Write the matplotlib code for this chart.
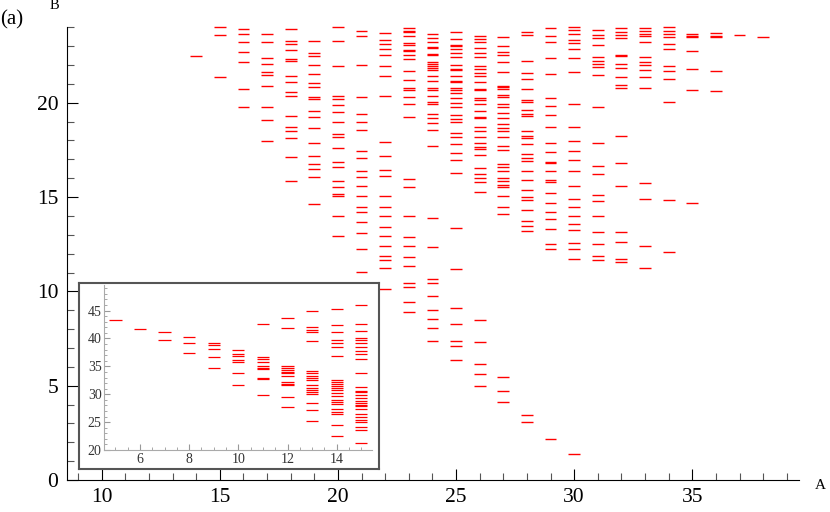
import matplotlib
matplotlib.use("Agg")
import matplotlib.pyplot as plt
from matplotlib.ticker import MultipleLocator

plt.rcParams['font.family'] = ['Liberation Serif', 'DejaVu Serif']

# main panel: A (column) and the B levels
main_A = [14, 15, 16, 17, 18, 19, 20, 21, 22, 23, 24, 25, 26,
          27, 28, 29, 30, 31, 32, 33, 34, 35, 36, 37, 38]
main_B = [
    [22.49],
    [24.0, 23.6, 21.34],
    [23.93, 23.64, 23.22, 22.67, 22.18, 20.74, 19.79],
    [23.62, 23.20, 22.35, 22.05, 21.61, 21.47, 20.89, 19.80, 19.11, 17.95],
    [23.89, 23.26, 23.09, 22.80, 22.32, 22.19, 21.40, 21.10, 20.57, 20.36,
     19.31, 18.73, 18.50, 18.11, 17.15, 15.86],
    [23.29, 22.64, 22.48, 21.98, 21.54, 21.05, 20.86, 20.28, 20.20, 19.58,
     19.26, 18.66, 17.89, 17.20, 16.76, 16.50, 16.04, 14.64],
    [24.01, 23.26, 21.93, 20.37, 20.19, 19.88, 19.52, 18.96, 18.36, 18.21,
     17.60, 16.85, 16.57, 15.86, 15.54, 15.15, 15.08, 14.01, 12.96],
    [23.78, 23.53, 22.0, 20.33, 19.42, 18.96, 18.53, 17.45, 17.08, 16.36,
     16.04, 15.61, 15.03, 14.48, 14.20, 13.69, 13.10, 12.27, 11.03],
    [23.68, 23.34, 23.11, 22.86, 22.53, 21.93, 21.40, 20.37, 17.93, 17.20,
     16.41, 16.14, 15.03, 14.48, 14.02, 13.42, 12.94, 12.43, 11.87, 11.66,
     11.25, 10.13],
    [23.96, 23.82, 23.75, 23.54, 23.17, 23.06, 22.81, 22.72, 22.55, 22.32,
     21.66, 21.20, 20.78, 20.67, 20.32, 19.93, 19.27, 15.95, 15.51, 13.97,
     12.87, 12.40, 11.83, 11.37, 10.47, 10.24, 9.46, 8.90],
    [23.64, 23.43, 23.22, 22.97, 22.90, 22.60, 22.51, 22.16, 22.05, 21.94,
     21.84, 21.73, 21.43, 21.15, 20.80, 20.67, 20.36, 20.04, 19.93, 19.40,
     19.17, 18.90, 18.58, 17.73, 13.88, 12.36, 10.68, 10.47, 9.76, 9.02,
     8.56, 8.06, 7.39],
    [23.75, 23.40, 23.04, 22.99, 22.83, 22.64, 22.43, 22.02, 21.79, 21.71,
     21.43, 21.17, 21.10, 20.79, 20.69, 20.50, 20.23, 19.99, 19.75, 19.35,
     19.15, 18.98, 18.39, 18.18, 17.79, 17.31, 16.96, 16.25, 13.37, 11.21,
     9.14, 8.28, 7.39, 7.11, 6.35],
    [23.53, 23.40, 23.24, 22.89, 22.62, 22.45, 21.97, 21.78, 21.56, 21.42,
     21.10, 20.75, 20.68, 20.27, 20.13, 19.95, 19.58, 19.24, 19.17, 18.73,
     18.50, 18.18, 17.88, 17.63, 17.56, 17.21, 16.52, 16.24, 15.99, 15.81,
     15.28, 8.49, 7.29, 6.17, 5.64, 5.0],
    [23.46, 23.02, 22.71, 22.53, 22.18, 21.61, 20.90, 20.81, 20.73, 20.42,
     20.28, 19.93, 19.75, 19.45, 19.19, 18.89, 18.64, 18.48, 18.18, 17.72,
     17.49, 16.73, 16.57, 16.38, 16.01, 15.83, 15.64, 15.51, 15.03, 14.45,
     14.09, 5.45, 4.74, 4.16],
    [23.73, 23.59, 22.23, 21.57, 21.24, 20.71, 20.12, 20.04, 19.59, 19.40,
     19.30, 18.48, 18.25, 18.13, 17.81, 17.28, 17.08, 16.90, 16.36, 15.90,
     15.38, 14.98, 14.85, 14.32, 13.72, 13.45, 13.19, 3.47, 3.08],
    [23.98, 23.54, 23.24, 22.35, 21.54, 20.27, 19.82, 19.33, 18.69, 17.89,
     17.38, 16.87, 16.78, 16.36, 15.90, 15.78, 15.23, 14.69, 14.23, 13.83,
     13.33, 12.50, 12.27, 2.16],
    [24.0, 23.86, 23.65, 23.34, 23.15, 22.86, 22.39, 21.63, 19.95, 18.73,
     17.98, 17.45, 16.98, 16.39, 15.60, 14.89, 14.47, 14.01, 13.56, 13.25,
     12.56, 12.24, 11.74, 1.40],
    [23.87, 23.59, 23.41, 23.06, 22.44, 22.19, 22.07, 21.87, 21.45, 19.79,
     17.84, 16.62, 16.22, 15.12, 14.80, 14.01, 13.17, 12.52, 11.87, 11.64],
    [23.96, 23.73, 23.57, 23.45, 22.51, 22.46, 22.05, 21.86, 21.34, 20.95,
     20.76, 18.25, 16.82, 15.60, 13.17, 12.63, 11.69, 11.55],
    [23.96, 23.78, 23.64, 23.55, 23.20, 22.44, 22.14, 21.98, 21.75, 21.34,
     20.76, 15.72, 14.92, 12.38, 11.26],
    [24.01, 23.80, 23.62, 23.48, 23.11, 22.86, 21.96, 21.66, 21.27, 20.05,
     14.82, 12.11],
    [23.64, 23.53, 23.46, 22.76, 21.80, 20.67, 14.68],
    [23.68, 23.53, 23.46, 21.70, 20.64],
    [23.57],
    [23.50],
]

# inset panel
inset_A = [5, 6, 7, 8, 9, 10, 11, 12, 13, 14, 15]
inset_B = [
    [43.39],
    [41.79],
    [41.25, 39.70],
    [40.24, 39.23, 37.38],
    [39.17, 38.75, 38.15, 36.67, 34.64],
    [37.92, 37.26, 36.90, 36.13, 35.83, 33.75, 31.61],
    [42.68, 36.67, 36.25, 35.77, 35.0, 34.70, 34.52, 32.98, 32.74, 29.88],
    [43.75, 41.85, 35.0, 34.64, 34.35, 34.05, 33.75, 33.27, 32.14, 31.90,
     31.61, 29.46, 27.68],
    [44.88, 42.02, 41.49, 41.13, 39.64, 34.17, 33.87, 33.21, 32.86, 32.5,
     31.61, 31.07, 30.71, 30.42, 30.06, 28.45, 27.26, 25.18],
    [45.36, 42.5, 41.19, 39.70, 39.17, 38.45, 36.79, 32.5, 32.26, 31.90,
     31.49, 31.13, 30.71, 30.24, 29.64, 28.93, 28.57, 28.21, 27.32, 26.90,
     26.49, 24.52, 22.44],
    [46.07, 42.68, 41.43, 40.0, 39.76, 39.17, 38.39, 37.68, 37.26, 36.37,
     33.75, 31.31, 30.60, 30.36, 29.82, 29.40, 28.81, 28.51, 28.15, 27.86,
     27.44, 26.49, 25.83, 25.42, 25.0, 24.05, 23.57, 21.25],
]

red = '#ff0000'
half = 0.25

fig = plt.figure(figsize=(8.3, 5.12), dpi=100)

ax = fig.add_axes([0.0804, 0.0625, 0.8823, 0.8842])
for a, bs in zip(main_A, main_B):
    ax.hlines(bs, a - half, a + half, colors=red, lw=1.0, clip_on=False)
ax.set_xlim(8.52, 39.52)
ax.set_ylim(0, 24.0)
for s in ['top', 'right']:
    ax.spines[s].set_visible(False)
for s in ['left', 'bottom']:
    ax.spines[s].set_linewidth(0.8)
ax.xaxis.set_major_locator(MultipleLocator(5))
ax.xaxis.set_minor_locator(MultipleLocator(1))
ax.yaxis.set_major_locator(MultipleLocator(5))
ax.yaxis.set_minor_locator(MultipleLocator(1))
ax.tick_params(which='both', direction='in', width=0.8, labelsize=15.5)
ax.tick_params(which='major', length=8)
ax.tick_params(which='minor', length=5, color='#555555')
ax.tick_params(axis='y', pad=6)
ax.tick_params(axis='x', pad=6)

# white framed box behind the inset
box = fig.add_axes([0.0948, 0.084, 0.3622, 0.3639])
box.set_xticks([])
box.set_yticks([])
for s in box.spines.values():
    s.set_color('#555555')
    s.set_linewidth(1.5)

ins = fig.add_axes([0.1257, 0.1211, 0.3229, 0.3223])
ins.patch.set_alpha(0)
for a, bs in zip(inset_A, inset_B):
    ins.hlines(bs, a - half, a + half, colors=red, lw=0.9)
ins.set_xlim(4.55, 15.45)
ins.set_ylim(20, 49.6)
for s in ['top', 'right']:
    ins.spines[s].set_visible(False)
for s in ['left', 'bottom']:
    ins.spines[s].set_color('#aaaaaa')
    ins.spines[s].set_linewidth(0.8)
ins.xaxis.set_major_locator(MultipleLocator(2))
ins.xaxis.set_minor_locator(MultipleLocator(0.5))
ins.yaxis.set_major_locator(MultipleLocator(5))
ins.yaxis.set_minor_locator(MultipleLocator(1))
ins.tick_params(which='both', direction='in', color='#999999',
                labelsize=10, labelcolor='#333333', pad=2)
ins.tick_params(which='major', length=4)
ins.tick_params(which='minor', length=2)

fig.text(0.0, 0.962, '(a)', fontsize=15, va='center', ha='left')
fig.text(0.066, 0.99, 'B', fontsize=10.5, va='center', ha='center')
fig.text(0.988, 0.052, 'A', fontsize=11, va='center', ha='center')

fig.savefig('out.png', dpi=100)
